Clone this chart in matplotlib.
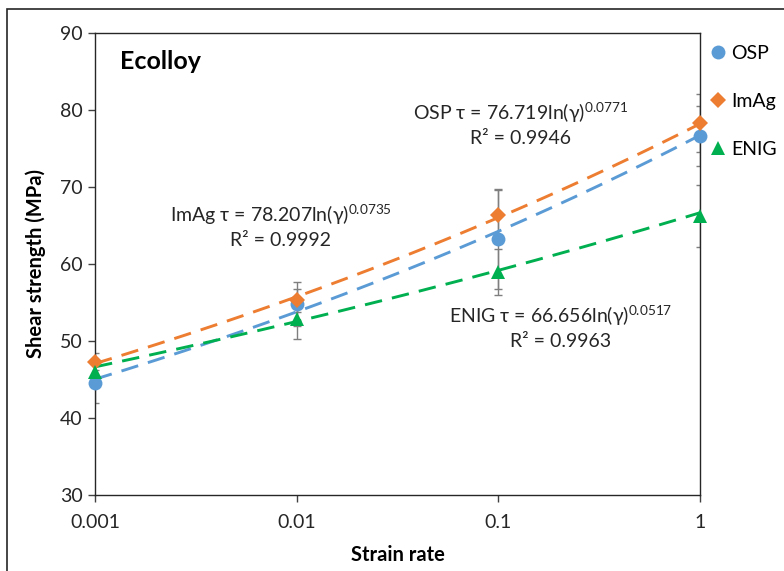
import numpy as np
import matplotlib
matplotlib.use("Agg")
import matplotlib.pyplot as plt
from matplotlib.lines import Line2D
from matplotlib.patches import Rectangle

plt.rcParams['font.family'] = ['Lato', 'DejaVu Sans']
plt.rcParams['mathtext.fontset'] = 'custom'
plt.rcParams['mathtext.rm'] = 'Lato'
plt.rcParams['mathtext.it'] = 'Lato:italic'
plt.rcParams['mathtext.bf'] = 'Lato:bold'

# Measured shear strength (MPa) at each strain rate
strain_rate = [0.001, 0.01, 0.1, 1]
series_names = ['OSP', 'ImAg', 'ENIG']
osp = [44.5, 54.8, 63.2, 76.6]
imag = [47.3, 55.3, 66.4, 78.3]
enig = [46.0, 52.8, 59.0, 66.2]
osp_err = [2.5, 2.8, 6.4, 3.9]
imag_err = [1.1, 1.5, 3.3, 3.8]
enig_err = [1.2, 2.5, 3.0, 4.0]

# Power-law trendlines: tau = A * rate^b
fit_coef = [76.719, 78.207, 66.656]
fit_exp = [0.0771, 0.0735, 0.0517]
r_squared = [0.9946, 0.9992, 0.9963]

y_ticks = [30, 40, 50, 60, 70, 80, 90]
x_tick_labels = ['0.001', '0.01', '0.1', '1']

colors = ['#5B9BD5', '#ED7D31', '#00B050']
markers = ['o', 'D', '^']
msizes = [10, 8, 9.5]

fig = plt.figure(figsize=(7.84, 5.71), dpi=100)
ax = fig.add_axes([95 / 784, 1 - 495 / 571, 605 / 784, 462 / 571])

values = [osp, imag, enig]
errors = [osp_err, imag_err, enig_err]

xf = np.logspace(-3, 0, 200)
for i in range(3):
    ax.errorbar(strain_rate, values[i], yerr=errors[i], fmt='none',
                ecolor='#7f7f7f', elinewidth=1.0, capsize=3, capthick=1.0, zorder=2)
for i in range(3):
    ax.plot(xf, fit_coef[i] * xf ** fit_exp[i], color=colors[i], lw=2.1,
            dashes=(6, 3.5), zorder=3)
for i in range(3):
    ax.plot(strain_rate, values[i], linestyle='none', marker=markers[i],
            ms=msizes[i], color=colors[i], markeredgewidth=0, zorder=4,
            clip_on=False)

ax.set_xscale('log')
ax.set_xlim(0.001, 1)
ax.set_ylim(30, 90)
ax.set_xticks(strain_rate)
ax.set_xticklabels(x_tick_labels)
ax.xaxis.set_minor_locator(matplotlib.ticker.NullLocator())
ax.set_yticks(y_ticks)
ax.tick_params(axis='both', which='major', direction='out', length=5,
               width=1, color='#404040', labelsize=14, labelcolor='#262626')
ax.tick_params(axis='x', pad=9)
ax.tick_params(axis='y', pad=4)
for s in ax.spines.values():
    s.set_color('#262626')
    s.set_linewidth(1.0)

ax.set_xlabel('Strain rate', fontsize=14.5, fontweight='bold', labelpad=10)
ax.set_ylabel('Shear strength (MPa)', fontsize=14.5, fontweight='bold', labelpad=10)

ax.text(0.041, 0.938, 'Ecolloy', transform=ax.transAxes, fontsize=18,
        fontweight='bold', ha='left', va='center')

ann_pos = [(0.704, 0.827, 0.771), (0.307, 0.606, 0.550), (0.769, 0.387, 0.333)]
for i in range(3):
    x, y1, y2 = ann_pos[i]
    ax.text(x, y1, f'{series_names[i]} τ = {fit_coef[i]:.3f}ln(γ)$^{{{fit_exp[i]:.4f}}}$',
            transform=ax.transAxes, ha='center', va='center', fontsize=14,
            color='#262626')
    ax.text(x, y2, f'R² = {r_squared[i]:.4f}', transform=ax.transAxes,
            ha='center', va='center', fontsize=14, color='#262626')

handles = [Line2D([], [], linestyle='none', marker=markers[i], ms=msizes[i],
                  color=colors[i], markeredgewidth=0) for i in range(3)]
fig.legend(handles, series_names, loc='upper left',
           bbox_to_anchor=(708 / 784, 1 - 45 / 571), frameon=False,
           handlelength=1.0, handletextpad=0.2, labelspacing=1.6,
           borderpad=0, borderaxespad=0, fontsize=14)

fig.add_artist(Rectangle((7 / 784, -0.2), 1.5, 1.2 - 9 / 571,
                         transform=fig.transFigure, fill=False,
                         edgecolor='#262626', lw=1.2))

fig.savefig('out.png', dpi=100)
